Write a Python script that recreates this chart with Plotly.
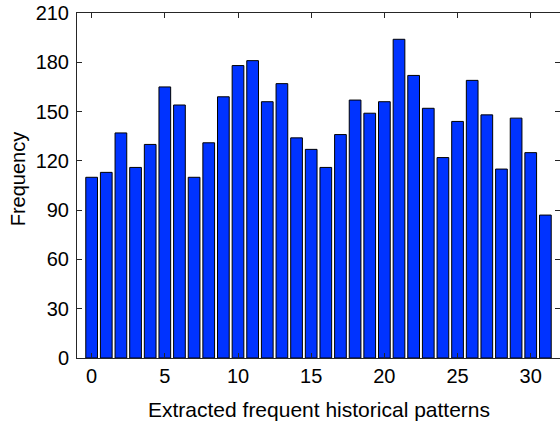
import plotly.graph_objects as go

patterns = list(range(32))
frequency = [110, 113, 137, 116, 130, 165, 154, 110, 131, 159, 178, 181, 156, 167, 134, 127,
             116, 136, 157, 149, 156, 194, 172, 152, 122, 144, 169, 148, 115, 146, 125, 87]
x_ticks = [0, 5, 10, 15, 20, 25, 30]
y_ticks = [0, 30, 60, 90, 120, 150, 180, 210]
x_title = "Extracted frequent historical patterns"
y_title = "Frequency"

fig = go.Figure(go.Bar(
    x=patterns, y=frequency, width=0.8,
    marker=dict(color="rgb(0,51,255)", line=dict(color="black", width=1)),
))

font = dict(family="Liberation Sans, Arial, sans-serif", size=20, color="black")
axis_common = dict(showgrid=False, zeroline=False, showline=True, mirror="ticks",
                   linecolor="#262626", linewidth=1, ticks="inside", ticklen=5,
                   tickcolor="#262626", tickfont=font, automargin=False,
                   ticklabeloverflow="allow")

fig.update_layout(
    width=560, height=423,
    margin=dict(l=77, r=0, t=13, b=65),
    paper_bgcolor="white", plot_bgcolor="white",
    showlegend=False,
    font=font,
    xaxis=dict(range=[-1, 32], tickvals=x_ticks, **axis_common),
    yaxis=dict(range=[0, 210], tickvals=y_ticks, ticklabelstandoff=3, **axis_common),
    annotations=[
        dict(text=x_title, xref="paper", yref="paper", x=0.5, y=0,
             xanchor="center", yanchor="top", yshift=-38, showarrow=False,
             font=dict(size=21)),
        dict(text=y_title, xref="paper", yref="paper", x=0, y=0.518,
             xanchor="center", yanchor="middle", xshift=-59, textangle=-90,
             showarrow=False, font=dict(size=20)),
    ],
)

# remove the default 8px page margin so the figure fills the window exactly
fig.write_html("out.html",
               config={"displayModeBar": False},
               post_script="document.body.style.margin='0';document.body.style.overflow='hidden';")
